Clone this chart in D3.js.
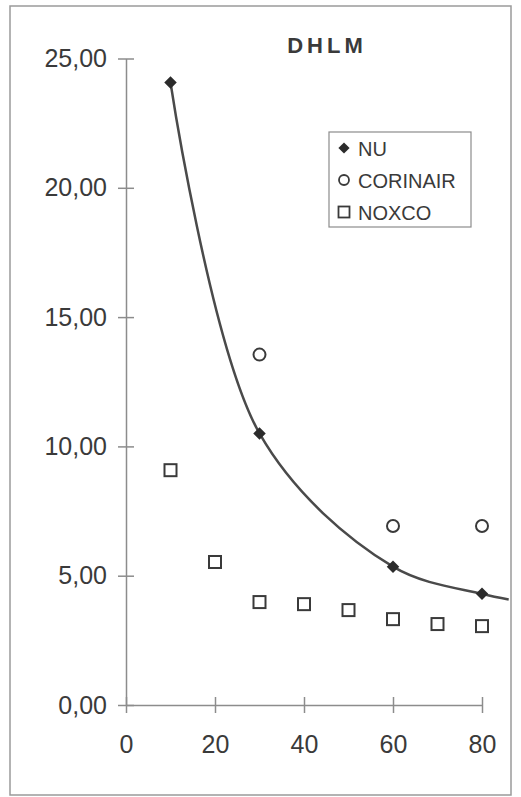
<!DOCTYPE html>
<html>
<head>
<meta charset="utf-8">
<script src="https://cdn.jsdelivr.net/npm/d3@7/dist/d3.min.js"></script>
<style>
  html, body { margin: 0; padding: 0; background: #fff; }
  svg { display: block; }
  text { font-family: "Liberation Sans", Arial, sans-serif; fill: #3a3a3a; }
</style>
</head>
<body>
<svg id="chart" width="521" height="797"></svg>
<script>
// ---- data ----
const nuX = [10, 30, 60, 80];
const nuY = [24.07, 10.5, 5.35, 4.3];
const corinairX = [30, 60, 80];
const corinairY = [13.55, 6.92, 6.92];
const noxcoX = [10, 20, 30, 40, 50, 60, 70, 80];
const noxcoY = [9.08, 5.53, 3.98, 3.9, 3.67, 3.32, 3.13, 3.05];
// trend curve (through NU, extended to the right edge as in the picture)
const trendX = [10, 30, 60, 80, 86];
const trendY = [24.07, 10.5, 5.35, 4.3, 4.08];
const xTicks = [0, 20, 40, 60, 80];
const yTicks = [0, 5, 10, 15, 20, 25];
const yTickLabels = ["0,00", "5,00", "10,00", "15,00", "20,00", "25,00"];
const seriesNames = ["NU", "CORINAIR", "NOXCO"];
const title = "DHLM";

const svg = d3.select("#chart");
const axisColor = "#8c8c8c";
const markColor = "#2b2b2b";

// frame
svg.append("rect").attr("x", 10).attr("y", 6).attr("width", 501).attr("height", 789)
  .attr("fill", "none").attr("stroke", "#9a9a9a").attr("stroke-width", 1.5);

const x = d3.scaleLinear().domain([0, 80]).range([126, 482]);
const y = d3.scaleLinear().domain([0, 25]).range([705, 58.5]);

// y axis
const yAxis = svg.append("g").attr("transform", `translate(${x(0)},0)`)
  .call(d3.axisLeft(y).tickValues(yTicks).tickSizeInner(8).tickSizeOuter(0).tickPadding(11)
    .tickFormat((d, i) => yTickLabels[i]));
yAxis.selectAll(".tick").append("line").attr("x2", 8).attr("stroke", axisColor);
// x axis
const xAxis = svg.append("g").attr("transform", `translate(0,${y(0)})`)
  .call(d3.axisBottom(x).tickValues(xTicks).tickSizeInner(8).tickSizeOuter(0).tickPadding(22)
    .tickFormat(d3.format("d")));
xAxis.selectAll(".tick").append("line").attr("y2", -8).attr("stroke", axisColor);

[yAxis, xAxis].forEach(g => {
  g.selectAll("path,line").attr("stroke", axisColor).attr("stroke-width", 1.5);
  g.selectAll("text").style("font-family", "'Liberation Sans', Arial, sans-serif")
    .style("font-size", "25px").attr("fill", "#3a3a3a");
});

// trend curve
const line = d3.line().x(d => x(d[0])).y(d => y(d[1])).curve(d3.curveCatmullRom.alpha(0.5));
svg.append("path").datum(trendX.map((v, i) => [v, trendY[i]]))
  .attr("d", line).attr("fill", "none").attr("stroke", "#4a4a4a").attr("stroke-width", 2.5);

// markers
const diamond = d3.symbol().type(d3.symbolDiamond2).size(100);
svg.append("g").selectAll("path").data(nuX.map((v, i) => [v, nuY[i]])).join("path")
  .attr("d", diamond).attr("transform", d => `translate(${x(d[0])},${y(d[1])})`)
  .attr("fill", markColor);
svg.append("g").selectAll("circle").data(corinairX.map((v, i) => [v, corinairY[i]])).join("circle")
  .attr("cx", d => x(d[0])).attr("cy", d => y(d[1])).attr("r", 6)
  .attr("fill", "#fff").attr("stroke", "#3a3a3a").attr("stroke-width", 2);
svg.append("g").selectAll("rect").data(noxcoX.map((v, i) => [v, noxcoY[i]])).join("rect")
  .attr("x", d => x(d[0]) - 6).attr("y", d => y(d[1]) - 6).attr("width", 12).attr("height", 12)
  .attr("fill", "#fff").attr("stroke", "#3a3a3a").attr("stroke-width", 2);

// title
svg.append("text").attr("x", 327).attr("y", 53).attr("text-anchor", "middle")
  .style("font-size", "22px").style("font-weight", "bold").style("letter-spacing", "4px")
  .attr("fill", "#333").text(title);

// legend
const lg = svg.append("g").attr("transform", "translate(329,132)");
lg.append("rect").attr("width", 142).attr("height", 95).attr("fill", "#fff")
  .attr("stroke", "#8c8c8c").attr("stroke-width", 1.2);
seriesNames.forEach((name, i) => {
  const cy = 16 + i * 32;
  const g = lg.append("g").attr("transform", `translate(15,${cy})`);
  if (i === 0) g.append("path").attr("d", d3.symbol().type(d3.symbolDiamond2).size(80)).attr("fill", markColor);
  if (i === 1) g.append("circle").attr("r", 5).attr("fill", "#fff").attr("stroke", "#3a3a3a").attr("stroke-width", 1.8);
  if (i === 2) g.append("rect").attr("x", -5.5).attr("y", -5.5).attr("width", 11).attr("height", 11).attr("fill", "#fff").attr("stroke", "#3a3a3a").attr("stroke-width", 1.8);
  lg.append("text").attr("x", 29).attr("y", cy + 7.5).style("font-size", "20px").attr("fill", "#3a3a3a").text(name);
});
</script>
</body>
</html>
